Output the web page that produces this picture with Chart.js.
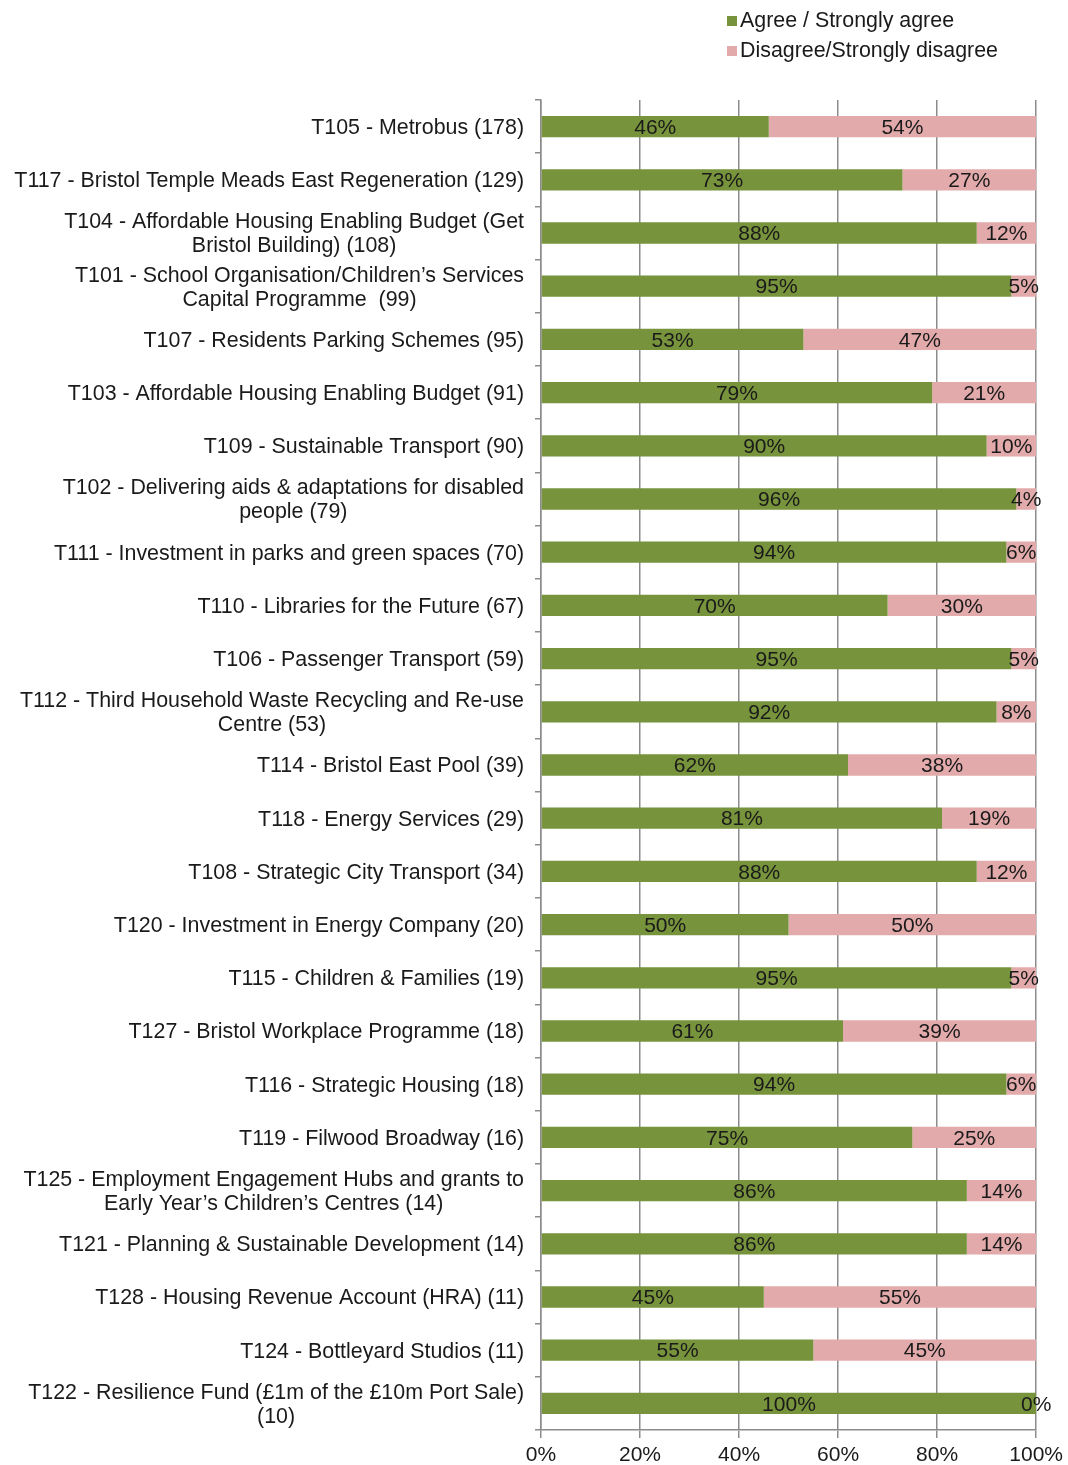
<!DOCTYPE html>
<html>
<head>
<meta charset="utf-8">
<title>Agree / Disagree by proposal</title>
<script src="https://cdn.jsdelivr.net/npm/chart.js@4/dist/chart.umd.min.js"></script>
<style>
  html, body { margin: 0; padding: 0; background: #fff; }
  #wrap { width: 1068px; height: 1465px; position: relative; }
</style>
</head>
<body>
<div id="wrap"><canvas id="grafico"></canvas></div>
<script>
// proposals, each label split into its printed lines
const categories = [
  ['T105 - Metrobus (178)'],
  ['T117 - Bristol Temple Meads East Regeneration (129)'],
  ['T104 - Affordable Housing Enabling Budget (Get', 'Bristol Building) (108)'],
  ['T101 - School Organisation/Children\u2019s Services', 'Capital Programme  (99)'],
  ['T107 - Residents Parking Schemes (95)'],
  ['T103 - Affordable Housing Enabling Budget (91)'],
  ['T109 - Sustainable Transport (90)'],
  ['T102 - Delivering aids & adaptations for disabled', 'people (79)'],
  ['T111 - Investment in parks and green spaces (70)'],
  ['T110 - Libraries for the Future (67)'],
  ['T106 - Passenger Transport (59)'],
  ['T112 - Third Household Waste Recycling and Re-use', 'Centre (53)'],
  ['T114 - Bristol East Pool (39)'],
  ['T118 - Energy Services (29)'],
  ['T108 - Strategic City Transport (34)'],
  ['T120 - Investment in Energy Company (20)'],
  ['T115 - Children & Families (19)'],
  ['T127 - Bristol Workplace Programme (18)'],
  ['T116 - Strategic Housing (18)'],
  ['T119 - Filwood Broadway (16)'],
  ['T125 - Employment Engagement Hubs and grants to', 'Early Year\u2019s Children\u2019s Centres (14)'],
  ['T121 - Planning & Sustainable Development (14)'],
  ['T128 - Housing Revenue Account (HRA) (11)'],
  ['T124 - Bottleyard Studios (11)'],
  ['T122 - Resilience Fund (\u00a31m of the \u00a310m Port Sale)', '(10)']
];

const agree    = [46, 73, 88, 95, 53, 79, 90, 96, 94, 70, 95, 92, 62, 81, 88, 50, 95, 61, 94, 75, 86, 86, 45, 55, 100];
const disagree = [54, 27, 12,  5, 47, 21, 10,  4,  6, 30,  5,  8, 38, 19, 12, 50,  5, 39,  6, 25, 14, 14, 55, 45,   0];

const xTicks = [0, 20, 40, 60, 80, 100];

const FONT = '"Liberation Sans", Arial, sans-serif';
const TEXT = '#1a1a1a';

// y labels: block right-aligned, lines centred within the block
const labelesY = {
  id: 'labelesY',
  afterDraw(chart) {
    const ctx = chart.ctx;
    const y = chart.scales.y;
    ctx.save();
    ctx.font = '21.4px ' + FONT;
    ctx.fillStyle = TEXT;
    ctx.textAlign = 'center';
    ctx.textBaseline = 'middle';
    const right = y.right - 17;
    const lineH = 24;
    chart.data.labels.forEach((lines, i) => {
      const cy = y.getPixelForTick(i) + 1.5;
      const w = Math.max(...lines.map(l => ctx.measureText(l).width));
      const cx = right - w / 2;
      const top = cy - (lines.length - 1) * lineH / 2;
      lines.forEach((l, k) => ctx.fillText(l, cx, top + k * lineH));
    });
    ctx.restore();
  }
};

// percentage labels centred on each segment
const valores = {
  id: 'valores',
  afterDatasetsDraw(chart) {
    const ctx = chart.ctx;
    ctx.save();
    ctx.font = '21px ' + FONT;
    ctx.fillStyle = TEXT;
    ctx.textAlign = 'center';
    ctx.textBaseline = 'middle';
    chart.data.datasets.forEach((ds, d) => {
      chart.getDatasetMeta(d).data.forEach((bar, i) => {
        const x = (bar.x + bar.base) / 2;
        ctx.fillText(ds.data[i] + '%', x, bar.y + 1.5);
      });
    });
    ctx.restore();
  }
};

// vertical legend in the top right
const leyenda = {
  id: 'leyenda',
  afterDraw(chart) {
    const ctx = chart.ctx;
    ctx.save();
    ctx.font = '21.4px ' + FONT;
    ctx.textBaseline = 'middle';
    chart.data.datasets.forEach((ds, d) => {
      const y = 21 + d * 30;
      ctx.fillStyle = ds.backgroundColor;
      ctx.fillRect(727, y - 5, 10, 10);
      ctx.fillStyle = TEXT;
      ctx.fillText(ds.label, 740, y);
    });
    ctx.restore();
  }
};

const ctx = document.getElementById('grafico').getContext('2d');
new Chart(ctx, {
  type: 'bar',
  data: {
    labels: categories,
    datasets: [
      {
        label: 'Agree / Strongly agree',
        data: agree,
        backgroundColor: '#77933C',
        barPercentage: 0.4,
        categoryPercentage: 1
      },
      {
        label: 'Disagree/Strongly disagree',
        data: disagree,
        backgroundColor: '#E2AAAB',
        barPercentage: 0.4,
        categoryPercentage: 1
      }
    ]
  },
  options: {
    indexAxis: 'y',
    responsive: true,
    maintainAspectRatio: false,
    animation: false,
    layout: { padding: { top: 100, right: 31, left: 0, bottom: 0 } },
    plugins: {
      legend: { display: false },
      tooltip: { enabled: false }
    },
    scales: {
      x: {
        stacked: true,
        min: 0,
        max: 100,
        afterBuildTicks: (s) => { s.ticks = xTicks.map(v => ({ value: v })); },
        afterFit: (s) => { s.height = 35; },
        ticks: {
          callback: (v) => v + '%',
          font: { family: FONT, size: 21 },
          color: TEXT,
          padding: 5,
          maxRotation: 0
        },
        grid: { color: '#8c8c8c', lineWidth: 1.5, tickLength: 8 },
        border: { color: '#8c8c8c', width: 1.5 }
      },
      y: {
        stacked: true,
        afterFit: (s) => { s.width = 541; },
        ticks: { display: false },
        grid: { offset: true, drawOnChartArea: false, color: '#8c8c8c', lineWidth: 1.5, tickLength: 6 },
        border: { color: '#8c8c8c', width: 1.5 }
      }
    }
  },
  plugins: [labelesY, valores, leyenda]
});
</script>
</body>
</html>
